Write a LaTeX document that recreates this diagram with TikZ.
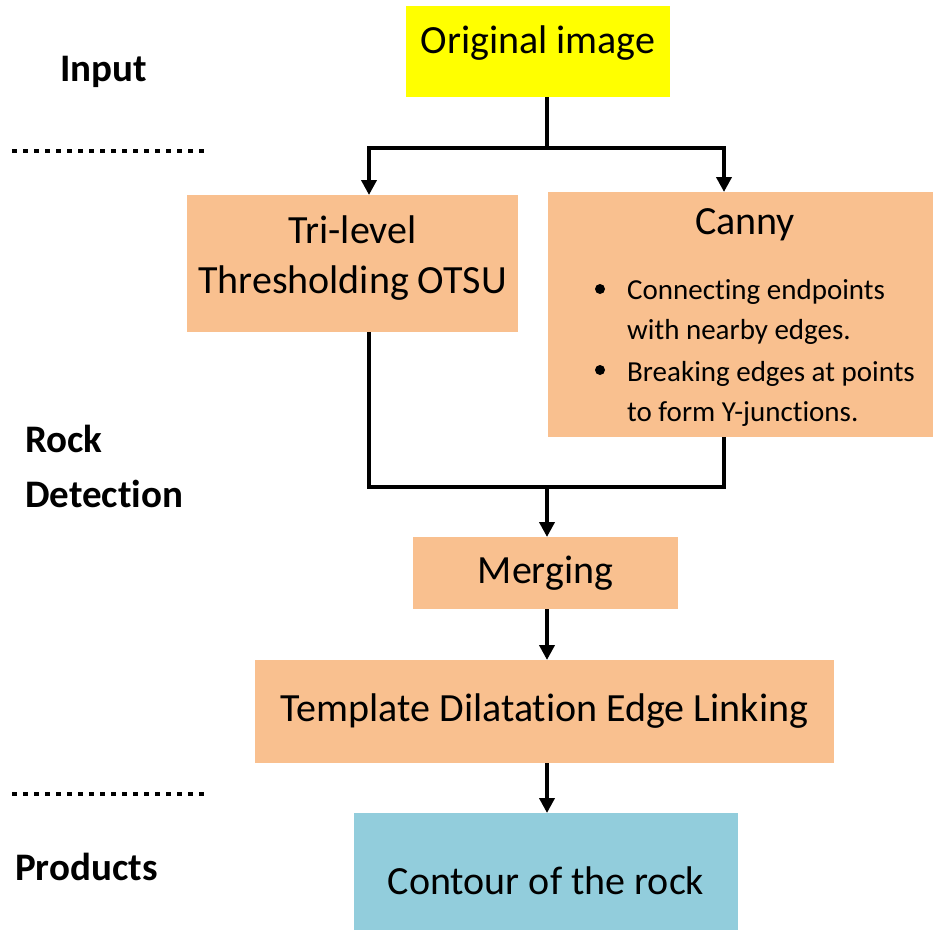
\documentclass[tikz,border=0pt]{standalone}
\usepackage{fontspec}
\setmainfont{Carlito}[Ligatures=NoCommon]
\usetikzlibrary{arrows.meta}

\definecolor{stepfill}{HTML}{F9C08F}
\definecolor{inputfill}{HTML}{FFFF00}
\definecolor{outputfill}{HTML}{92CDDC}

\begin{document}
\begin{tikzpicture}[x=1pt,y=-1pt,
  box/.style={draw=none,inner sep=0pt,outer sep=0pt,anchor=north west},
  boxtext/.style={font=\fontsize{40}{50}\selectfont,inner sep=0pt,align=center},
  bullettext/.style={font=\fontsize{29}{40}\selectfont,inner sep=0pt,anchor=base west},
  phase/.style={font=\fontsize{39}{55}\selectfont\bfseries,inner sep=0pt,anchor=base west,align=left},
  link/.style={line width=4pt},
  arrow/.style={line width=4pt,-{Triangle[width=15pt,length=15pt]}},
  divider/.style={line width=4.5pt,dash pattern=on 4.5pt off 6.5pt}
]
\useasboundingbox (0,0) rectangle (933,931);

% process boxes
\node[box,fill=inputfill,minimum width=264pt,minimum height=91pt] (orig) at (406,6) {};
\node[boxtext] (origt) at ([yshift=8pt]orig.center) {Original image};

\node[box,fill=stepfill,minimum width=331pt,minimum height=137pt] (otsu) at (187,195) {};
\node[boxtext] (otsut) at ([yshift=5pt]otsu.center) {Tri-level\\Thresholding OTSU};

\node[box,fill=stepfill,minimum width=385pt,minimum height=245pt] (canny) at (548,192) {};
\node[font=\fontsize{40}{50}\selectfont,inner sep=0pt,anchor=base] (cannyt) at (745,234) {Canny};
\node[bullettext] (b1a) at (627,299) {Connecting endpoints};
\node[bullettext] (b1b) at (627,339) {with nearby edges.};
\node[bullettext] (b2a) at (627,381) {Breaking edges at points};
\node[bullettext] (b2b) at (627,421) {to form Y-junctions.};
\fill (600,289) circle (5pt);
\fill (600,370) circle (5pt);

\node[box,fill=stepfill,minimum width=265pt,minimum height=72pt] (merge) at (413,537) {};
\node[boxtext] (merget) at (merge.center) {Merging};

\node[box,fill=stepfill,minimum width=579pt,minimum height=103pt] (link) at (255,660) {};
\node[boxtext] (linkt) at (link.center) {Template Dilatation Edge Linking};

\node[box,fill=outputfill,minimum width=384pt,minimum height=117pt] (contour) at (354,813) {};
\node[boxtext] (contourt) at ([yshift=-9pt]contour.center) {Contour of the rock};

% connectors, all on the trunk at x=547
\coordinate (split) at (547,148);
\coordinate (join) at (547,487);
\draw[link] (split |- orig.south) -- (split);
\draw[arrow] (split) -| (369,195);
\draw[arrow] (split) -| (724,192);
\draw[link] (369,332) |- (join);
\draw[link] (724,437) |- (join);
\draw[arrow] (join) -- (join |- merge.north);
\draw[arrow] (join |- merge.south) -- (join |- link.north);
\draw[arrow] (join |- link.south) -- (join |- contour.north);

% phase labels and dividers
\node[phase] (lin) at (60,82) {Input};
\node[phase] (lrock) at (25,507) {Rock\\Detection};
\node[phase] (lprod) at (15,880) {Products};
\coordinate (d1a) at (12,151);
\coordinate (d1b) at (205,151);
\coordinate (d2a) at (12,794);
\coordinate (d2b) at (205,794);
\draw[divider] (d1a) -- (d1b);
\draw[divider] (d2a) -- (d2b);
\end{tikzpicture}
\end{document}
